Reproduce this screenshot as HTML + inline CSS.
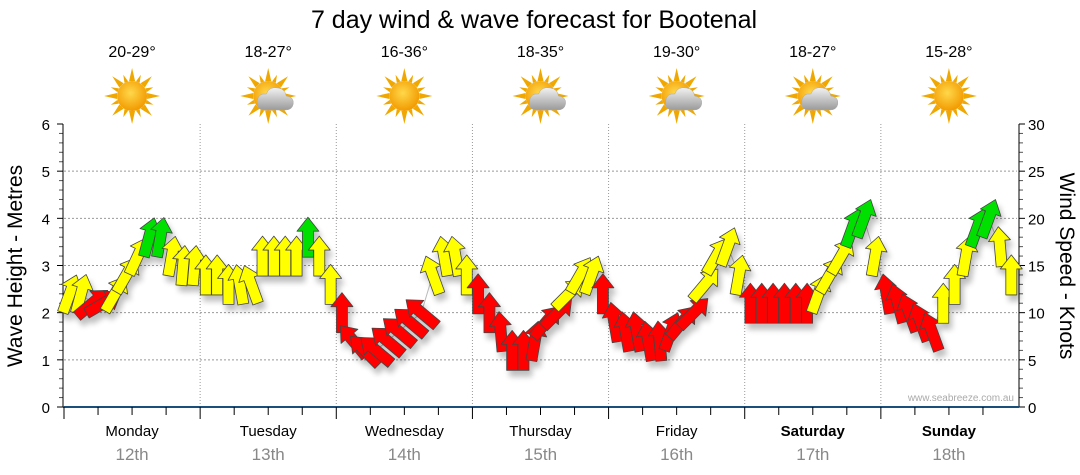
<!DOCTYPE html>
<html><head><meta charset="utf-8">
<style>
body{margin:0;background:#fff;width:1080px;height:475px;overflow:hidden;font-family:"Liberation Sans","DejaVu Sans",sans-serif}
svg{display:block}
</style></head>
<body>
<svg id="chart" width="1080" height="475" viewBox="0 0 1080 475" xmlns="http://www.w3.org/2000/svg">
<defs>
<filter id="sh" x="-50%" y="-50%" width="200%" height="200%"><feGaussianBlur in="SourceAlpha" stdDeviation="3"/><feOffset dx="3" dy="6"/><feComponentTransfer><feFuncA type="linear" slope="0.25"/></feComponentTransfer><feMerge><feMergeNode/><feMergeNode in="SourceGraphic"/></feMerge></filter>
<radialGradient id="sunG" cx="45%" cy="40%" r="60%"><stop offset="0" stop-color="#ffd84a"/><stop offset="1" stop-color="#f29a00"/></radialGradient>
<linearGradient id="cloudG" x1="0" y1="0" x2="0" y2="1"><stop offset="0" stop-color="#f2f2f2"/><stop offset="1" stop-color="#9a9a9a"/></linearGradient>
</defs>
<text x="534" y="28" font-size="25" text-anchor="middle" fill="#000">7 day wind &amp; wave forecast for Bootenal</text>
<g id="grid"></g>
<g id="axes"></g>
<g id="weather"></g>
<g id="arrows" filter="url(#sh)"></g>
<text transform="translate(22,266) rotate(-90)" font-size="21" text-anchor="middle">Wave Height - Metres</text>
<text transform="translate(1060,266) rotate(90)" font-size="21" text-anchor="middle">Wind Speed - Knots</text>
<text x="1014" y="401" font-size="10" text-anchor="end" fill="#aaa">www.seabreeze.com.au</text>
</svg>
<script>
const days=["Monday","Tuesday","Wednesday","Thursday","Friday","Saturday","Sunday"];
const dates=["12th","13th","14th","15th","16th","17th","18th"];
const temps=["20-29°","18-27°","16-36°","18-35°","19-30°","18-27°","15-28°"];
const icons=["sun","cloud","sun","cloud","cloud","cloud","sun"];
const waveTicks=[0,1,2,3,4,5,6];
const windTicks=[0,5,10,15,20,25,30];
const windSpeed=[
12,12,11,11,12,14,16,18,18,16,15,15,
14,14,13,13,13,16,16,16,16,18,16,13,
10,7,6,6,7,8,9,10,14,16,16,14,
12,10,8,6,6,7,9,10,12,14,14,12,
9,8,8,7,7,8,9,10,13,16,17,14,
11,11,11,11,11,11,12,14,16,19,20,16,
12,11,10,9,8,11,13,16,19,20,17,14];
const windDir=[
20,15,50,60,30,30,25,15,10,10,5,5,
0,0,0,-10,-20,0,0,0,0,0,0,0,
0,-40,-45,-50,-50,-50,-50,-50,-20,-10,-10,0,
0,0,-5,0,0,10,40,45,45,30,20,0,
-10,-10,-10,-10,-5,20,40,45,40,30,20,10,
0,0,0,0,0,0,20,30,30,20,20,10,
-10,-15,-20,-20,-20,0,0,10,20,20,-5,0];
const windCat=[
"y","y","r","r","y","y","y","g","g","y","y","y",
"y","y","y","y","y","y","y","y","y","g","y","y",
"r","r","r","r","r","r","r","r","y","y","y","y",
"r","r","r","r","r","r","r","r","y","y","y","r",
"r","r","r","r","r","r","r","r","y","y","y","y",
"r","r","r","r","r","r","y","y","y","g","g","y",
"r","r","r","r","r","y","y","y","g","g","y","y"];
const NS="http://www.w3.org/2000/svg";
const X0=64,X1=1017,Y0=407,Y1=124,DW=(X1-X0)/7;
const yWave=v=>Y0-(v/6)*(Y0-Y1);
const yWind=v=>Y0-(v/30)*(Y0-Y1);
const xTime=i=>X0+(i+0.5)*DW/12;
function mk(tag,attrs,parent){const e=document.createElementNS(NS,tag);for(const k in attrs)e.setAttribute(k,attrs[k]);parent.appendChild(e);return e;}
const grid=document.getElementById('grid'),axes=document.getElementById('axes'),wx=document.getElementById('weather'),ar=document.getElementById('arrows');
waveTicks.forEach(v=>{
 if(v>0&&v<6){const l=mk('line',{x1:X0,x2:X1,y1:yWave(v),y2:yWave(v),stroke:'#999','stroke-dasharray':'2,2'},grid);}
 const t=mk('text',{x:50,y:yWave(v)+6,'font-size':15,'text-anchor':'end',fill:'#000'},axes);t.textContent=v;
 
 mk('line',{x1:57,x2:63,y1:yWave(v),y2:yWave(v),stroke:'#000'},axes);
 if(v<6)for(let m=1;m<5;m++){const yy=yWave(v+m*0.2);mk('line',{x1:59,x2:63,y1:yy,y2:yy,stroke:'#555'},axes);}
});
windTicks.forEach(v=>{
 const t=mk('text',{x:1028,y:yWind(v)+6,'font-size':15,fill:'#000'},axes);t.textContent=v;
 
 mk('line',{x1:1019,x2:1025,y1:yWind(v),y2:yWind(v),stroke:'#000'},axes);
 if(v<30)for(let m=1;m<5;m++){const yy=yWind(v+m);mk('line',{x1:1019,x2:1023,y1:yy,y2:yy,stroke:'#555'},axes);}
});
mk('line',{x1:63,x2:63,y1:Y1,y2:Y0,stroke:'#000'},axes);
mk('line',{x1:1019,x2:1019,y1:Y1,y2:Y0,stroke:'#000'},axes);
mk('line',{x1:63,x2:1019,y1:Y0,y2:Y0,stroke:'#1a4f7a','stroke-width':2},axes);
days.forEach((d,i)=>{
 const xs=X0+i*DW,xc=xs+DW/2;
 if(i>0){const l=mk('line',{x1:xs,x2:xs,y1:Y1,y2:Y0,stroke:'#999','stroke-dasharray':'1,2'},grid);}
 for(let k=0;k<4;k++){const tx=xs+k*DW/4;mk('line',{x1:tx,x2:tx,y1:Y0,y2:Y0+(k==0?12:8),stroke:'#000'},axes);}
 const t1=mk('text',{x:xc,y:436,'font-size':15,'text-anchor':'middle','font-weight':i>=5?'bold':'normal'},axes);t1.textContent=d;
 
 const t2=mk('text',{x:xc,y:460,'font-size':17,'text-anchor':'middle',fill:'#888'},axes);t2.textContent=dates[i];
 
 const t3=mk('text',{x:xc,y:57,'font-size':16,'text-anchor':'middle'},wx);t3.textContent=temps[i];
 
 const g=mk('g',{transform:`translate(${xc},96)`},wx);
 
 for(let r=0;r<16;r++){const a=r*22.5;mk('polygon',{points:r%2?'-2,-15 0,-23 2,-15':'-3,-15 0,-28 3,-15',fill:'#f0a800',transform:`rotate(${a})`},g);}
 mk('circle',{r:15,fill:'url(#sunG)'},g);
 if(icons[i]=='cloud'){mk('path',{d:'M-4,14 Q-12,14 -11,5 Q-10,-3 -2,-2 Q1,-10 10,-8 Q17,-7 18,0 Q26,1 25,8 Q24,14 17,14 Z',fill:'url(#cloudG)',stroke:'#aaa','stroke-width':0.5},g);}
});
const col={r:'#ff0000',y:'#ffff00',g:'#00e000'};
let pts=windSpeed.map((v,i)=>xTime(i)+','+yWind(v)).join(' ');
const pl=mk('polyline',{points:pts,fill:'none',stroke:'#bbb','stroke-width':1},grid);

windSpeed.forEach((v,i)=>{
 const p=mk('polygon',{points:'-5.5,20 5.5,20 5.5,-6 11,-6 0,-20 -11,-6 -5.5,-6',fill:col[windCat[i]],stroke:'#444','stroke-width':0.8,'stroke-linejoin':'round',transform:`translate(${xTime(i)},${yWind(v)}) rotate(${windDir[i]})`},ar);
 
 
});
</script>
</body></html>
